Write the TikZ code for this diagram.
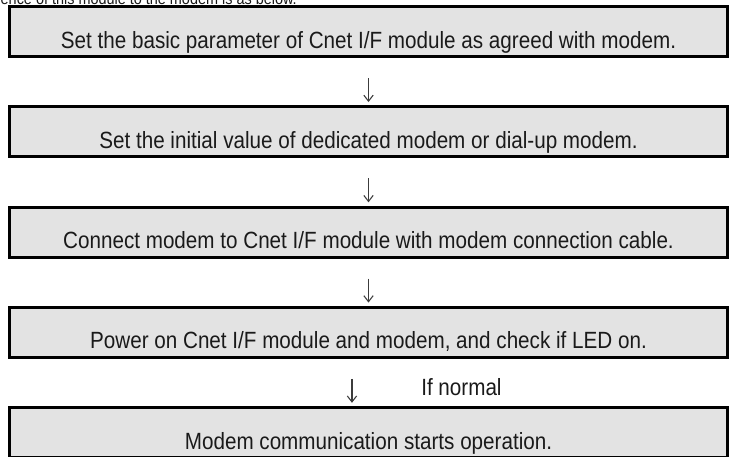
\documentclass[tikz,border=0pt]{standalone}
\usepackage{fontspec}
\setmainfont{Liberation Sans}[FakeStretch=0.88]
\usetikzlibrary{arrows.meta}
\definecolor{boxfill}{HTML}{E3E3E3}
\definecolor{ink}{HTML}{1A1A1A}
\begin{document}
\begin{tikzpicture}[x=0.75pt,y=-0.75pt,
  box/.style={draw=black, fill=boxfill, line width=2.25pt, minimum width=538.5pt, minimum height=37.5pt, inner sep=0pt},
  lbl/.style={anchor=base, text=ink, inner sep=0pt, font=\fontsize{17.6pt}{20pt}\selectfont},
  arr/.style={draw=ink!85, line width=0.8pt, -{Straight Barb[length=4.5pt,width=7pt]}, shorten <=15pt, shorten >=2.4pt}]
\clip (0,0) rectangle (729,457);
\useasboundingbox (0,0) rectangle (729,457);
\node[anchor=base east, text=ink, inner sep=0pt, font=\fontsize{12.3pt}{14pt}\selectfont] (intro) at (297,4) {ence of this module to the modem is as below.};
\node[box] (b1) at (368.5,31.5) {};
\node[box] (b2) at (368.5,131.75) {};
\node[box] (b3) at (368.5,232) {};
\node[box] (b4) at (368.5,332.25) {};
\node[box] (b5) at (368.5,432.5) {};
\node[lbl] (t1) at (368.5,48) {Set the basic parameter of Cnet I/F module as agreed with modem.};
\node[lbl] (t2) at (368.5,148.25) {Set the initial value of dedicated modem or dial-up modem.};
\node[lbl] (t3) at (368.5,248.5) {Connect modem to Cnet I/F module with modem connection cable.};
\node[lbl] (t4) at (368.5,348.75) {Power on Cnet I/F module and modem, and check if LED on.};
\node[lbl] (t5) at (368.5,449) {Modem communication starts operation.};
\draw[arr] (b1.south) -- (b2.north);
\draw[arr] (b2.south) -- (b3.north);
\draw[arr] (b3.south) -- (b4.north);
\draw[arr] ([xshift=-12.4pt]b4.south) -- ([xshift=-12.4pt]b5.north);
\node[lbl, anchor=base west] (cond) at (421,395) {If normal};
\end{tikzpicture}
\end{document}
